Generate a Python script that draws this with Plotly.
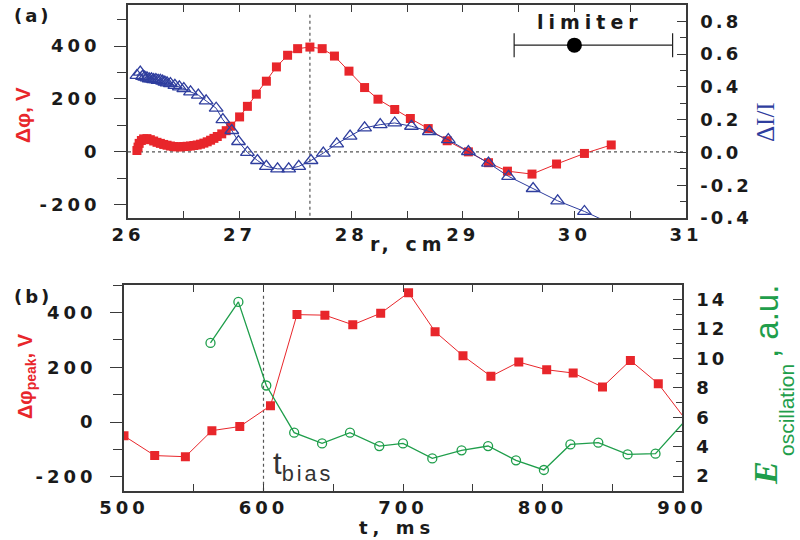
import plotly.graph_objects as go

# ---------------- data ----------------
# (a) radial profiles
r_phi = [26.08, 26.09, 26.10, 26.12, 26.14, 26.17, 26.20, 26.23, 26.26, 26.29,
         26.32, 26.35, 26.38, 26.41, 26.44, 26.47, 26.50, 26.53, 26.56, 26.59,
         26.62, 26.65, 26.68, 26.71, 26.74, 26.77, 26.80, 26.84, 26.88, 26.92,
         27.00, 27.07, 27.15, 27.24, 27.33, 27.43, 27.52, 27.63, 27.74, 27.85,
         27.98, 28.12, 28.24, 28.39, 28.53, 28.69, 28.86, 29.05, 29.23, 29.40,
         29.62, 29.84, 30.09, 30.33]
dphi = [5, 18, 32, 43, 49, 50, 46, 41, 36, 32,
        28, 25, 22, 20, 19, 19, 20, 21, 22, 24,
        26, 29, 33, 38, 44, 51, 58, 68, 80, 97,
        132, 172, 218, 267, 321, 365, 390, 396, 390, 362,
        305, 243, 199, 160, 126, 88, 42, 0, -41, -73,
        -84, -46, -6, 26]

r_dI = [26.08, 26.11, 26.13, 26.15, 26.17, 26.19, 26.21, 26.23, 26.25, 26.27,
        26.29, 26.31, 26.33, 26.35, 26.38, 26.42, 26.46, 26.50, 26.56, 26.63,
        26.70, 26.79, 26.85, 26.93, 26.99, 27.07, 27.16, 27.24, 27.34, 27.44,
        27.53, 27.64, 27.75, 27.87, 27.99, 28.12, 28.26, 28.39, 28.54, 28.70,
        28.87, 29.05, 29.23, 29.41, 29.63, 29.85, 30.09, 30.33]
dI_I = [0.47, 0.49, 0.465, 0.46, 0.455, 0.45, 0.45, 0.445, 0.445, 0.44,
        0.44, 0.435, 0.43, 0.425, 0.42, 0.41, 0.40, 0.39, 0.37, 0.35,
        0.315, 0.27, 0.20, 0.134, 0.067, 0.0, -0.049, -0.085, -0.10, -0.10,
        -0.085, -0.049, -0.004, 0.053, 0.10, 0.15, 0.17, 0.18, 0.16, 0.128,
        0.078, 0.006, -0.065, -0.146, -0.22, -0.295, -0.36, -0.435]

limiter_r = [30.0]
limiter_y = [0.655]
limiter_plus = [0.88]
limiter_minus = [0.54]
r_peak_line = 27.63

# (b) time evolution
t_phi = [500, 522, 544, 563, 583, 605, 624, 644, 664, 684, 704,
         723, 743, 763, 783, 803, 822, 843, 863, 883, 904]
dphi_peak = [-50, -122, -126, -31, -16, 60, 392, 390, 355, 397, 472,
             330, 242, 167, 219, 191, 179, 128, 225, 140, 0]

t_osc = [562, 582, 602, 622, 642, 662, 683, 700, 721, 742, 761,
         781, 801, 820, 840, 861, 881, 901]
e_osc = [11.06, 13.85, 8.16, 4.95, 4.22, 4.95, 4.04, 4.22, 3.2, 3.75, 4.04,
         3.07, 2.41, 4.15, 4.27, 3.47, 3.52, 5.63]
t_bias = 600

# tick labels
xa_ticks = [26, 27, 28, 29, 30, 31]
ya_ticks = [-200, 0, 200, 400]
ya2_ticks = [-0.4, -0.2, 0.0, 0.2, 0.4, 0.6, 0.8]
ya2_labels = ["-0.4", "-0.2", "0.0", "0.2", "0.4", "0.6", "0.8"]
xb_ticks = [500, 600, 700, 800, 900]
yb_ticks = [-200, 0, 200, 400]
yb2_ticks = [2, 4, 6, 8, 10, 12, 14]

# ---------------- style ----------------
RED = "#e8262b"
BLUE = "#2f3e9e"
GREEN = "#1f9e4b"
AX = "#3a3a3a"
W, H = 800, 540


def spaced(s, ls=4):
    return f"<span style='letter-spacing:{ls}px'>{s}</span>"


def px(x, y):
    return x / W, 1 - y / H


TICKFONT = dict(family="DejaVu Sans", size=18, color="#1a1a1a", weight="bold")

fig = go.Figure()

# (a) traces
fig.add_trace(go.Scatter(x=r_phi, y=dphi, mode="lines+markers", xaxis="x", yaxis="y",
                         line=dict(color=RED, width=1),
                         marker=dict(symbol="square", size=9, color=RED)))
fig.add_trace(go.Scatter(x=r_dI, y=dI_I, mode="lines+markers", xaxis="x", yaxis="y2",
                         cliponaxis=False,
                         line=dict(color=BLUE, width=1),
                         marker=dict(symbol="triangle-up-open", size=12, color=BLUE,
                                     line=dict(width=1.3))))
fig.add_trace(go.Scatter(x=limiter_r, y=limiter_y, mode="markers", xaxis="x", yaxis="y2",
                         marker=dict(symbol="circle", size=15, color="black"),
                         error_x=dict(type="data", symmetric=False, array=limiter_plus,
                                      arrayminus=limiter_minus, color="#222",
                                      thickness=1.2, width=12)))

# (b) traces
fig.add_trace(go.Scatter(x=t_phi, y=dphi_peak, mode="lines+markers", xaxis="x2", yaxis="y3",
                         line=dict(color=RED, width=1),
                         marker=dict(symbol="square", size=9, color=RED)))
fig.add_trace(go.Scatter(x=t_osc, y=e_osc, mode="lines+markers", xaxis="x2", yaxis="y4",
                         cliponaxis=False,
                         line=dict(color=GREEN, width=1.3),
                         marker=dict(symbol="circle-open", size=9, color=GREEN,
                                     line=dict(width=1.3))))

xa_dom = [128 / W, 686 / W]
ya_dom = [1 - 218 / H, 1 - 5 / H]
xb_dom = [124 / W, 682 / W]
yb_dom = [1 - 490.7 / H, 1 - 285 / H]

common_x = dict(showline=True, linecolor=AX, linewidth=1.5, mirror="allticks",
                ticks="inside", ticklen=7, tickwidth=1.2, tickcolor=AX, automargin=False,
                showgrid=False, zeroline=False, tickfont=TICKFONT, tickmode="array",
                ticklabelstandoff=0)
common_yl = dict(showline=True, linecolor=AX, linewidth=1.5, ticks="outside", ticklen=12,
                 tickwidth=1.2, tickcolor=AX, showgrid=False, zeroline=False, automargin=False,
                 tickfont=TICKFONT, tickmode="array", ticklabelstandoff=10)
common_yr = dict(showline=True, linecolor=AX, linewidth=1.5, ticks="inside", ticklen=9,
                 tickwidth=1.2, tickcolor=AX, showgrid=False, zeroline=False, automargin=False,
                 tickfont=TICKFONT, tickmode="array", side="right", ticklabelstandoff=9)

fig.update_layout(
    width=W, height=H, margin=dict(l=0, r=0, t=0, b=0, autoexpand=False),
    paper_bgcolor="white", plot_bgcolor="white", showlegend=False,
    xaxis=dict(common_x, domain=xa_dom, range=[26, 31], anchor="y",
               tickvals=xa_ticks, ticktext=[spaced(v) for v in xa_ticks],
               minor=dict(dtick=0.5, ticks="inside", ticklen=4, tickcolor=AX)),
    yaxis=dict(common_yl, domain=ya_dom, range=[-250, 555], anchor="x",
               tickvals=ya_ticks, ticktext=[spaced(v) for v in ya_ticks],
               minor=dict(dtick=100, ticks="outside", ticklen=9, tickcolor=AX)),
    yaxis2=dict(common_yr, overlaying="y", anchor="x", range=[-0.4, 0.9],
                tickvals=ya2_ticks, ticktext=[spaced(s, 3) for s in ya2_labels],
                minor=dict(dtick=0.1, ticks="inside", ticklen=6, tickcolor=AX)),
    xaxis2=dict(common_x, domain=xb_dom, range=[500, 900], anchor="y3",
                tickvals=xb_ticks, ticktext=[spaced(v) for v in xb_ticks],
                minor=dict(dtick=50, ticks="inside", ticklen=4, tickcolor=AX)),
    yaxis3=dict(common_yl, domain=yb_dom, range=[-250, 500], anchor="x2",
                tickvals=yb_ticks, ticktext=[spaced(v) for v in yb_ticks],
                minor=dict(dtick=100, ticks="outside", ticklen=9, tickcolor=AX)),
    yaxis4=dict(common_yr, overlaying="y3", anchor="x2", range=[1, 15],
                tickvals=yb2_ticks, ticktext=[spaced(v, 3) for v in yb2_ticks],
                minor=dict(dtick=1, ticks="inside", ticklen=6, tickcolor=AX)),
)

# reference lines
fig.add_shape(type="line", xref="x domain", yref="y", x0=0, x1=1, y0=0, y1=0,
              line=dict(color="#555", width=1.2, dash="dot"), layer="below")
fig.add_shape(type="line", xref="x", yref="y domain", x0=r_peak_line, x1=r_peak_line,
              y0=0.01, y1=0.96, line=dict(color="#555", width=1.2, dash="dot"), layer="below")
fig.add_shape(type="line", xref="x2", yref="y3 domain", x0=t_bias, x1=t_bias,
              y0=0, y1=0.96, line=dict(color="#555", width=1.2, dash="dot"), layer="below")

BOLD = dict(family="DejaVu Sans", size=18, color="#1a1a1a", weight="bold")


def note(text, x, y, font, angle=0, xanchor="center"):
    xp, yp = px(x, y)
    fig.add_annotation(text=text, x=xp, y=yp, xref="paper", yref="paper",
                       xanchor=xanchor, yanchor="middle", showarrow=False,
                       textangle=angle, font=font, borderpad=0)


note(spaced("(a)", 3), 33, 15, BOLD)
note(spaced("(b)", 3), 33, 296, BOLD)
note(spaced("limiter", 5), 590, 22, dict(BOLD, size=19))
note(spaced("r, cm", 5), 408, 244, dict(BOLD, size=19))
note(spaced("t, ms", 5), 397, 527, dict(BOLD, size=18))

note("Δφ, V", 22, 115, dict(family="Liberation Sans", size=21, color=RED, weight="bold"), -90)
note("Δφ<sub>peak</sub>, V", 26, 376,
     dict(family="Liberation Sans", size=20, color=RED, weight="bold"), -90)
note("ΔI/I", 766, 122, dict(family="Liberation Serif", size=25, color=BLUE), -90)

note("E", 765, 473, dict(family="Liberation Serif", size=34, color=GREEN,
                         weight="bold", style="italic"), -90)
note("oscillation", 786, 410, dict(family="Liberation Sans Narrow, Liberation Sans",
                                   size=21, color=GREEN), -90)
note(", a.u.", 766, 322, dict(family="Liberation Sans Narrow, Liberation Sans",
                              size=33, color=GREEN), -90)

note("t<span style='letter-spacing:3px'><sub>bias</sub></span>", 272, 466,
     dict(family="Liberation Sans", size=31, color="#333"), xanchor="left")

fig.write_html("out.html")
